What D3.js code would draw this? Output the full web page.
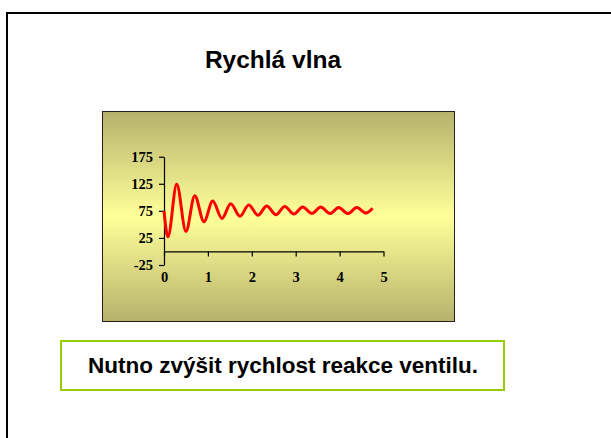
<!DOCTYPE html>
<html>
<head>
<meta charset="utf-8">
<script src="https://cdn.jsdelivr.net/npm/d3@7"></script>
<style>
  body { margin: 0; background: #fff; }
  svg { display: block; }
</style>
</head>
<body>
<svg id="chart"></svg>
<script>
// Data (time vs. value)
const titleText = "Rychlá vlna";
const noteText = "Nutno zvýšit rychlost reakce ventilu.";
const waveX = [0, 0.09, 0.29, 0.50, 0.70, 0.91, 1.11, 1.32, 1.52, 1.73, 1.93, 2.14, 2.34,
  2.55, 2.75, 2.96, 3.16, 3.37, 3.57, 3.78, 3.98, 4.19, 4.39, 4.60, 4.75];
const waveY = [75, 27, 124, 37, 103, 55, 93, 61, 88, 65, 86, 67, 84,
  68, 83, 69, 82, 70, 82, 70, 81, 70, 81, 71, 80];
const xTicks = [0, 1, 2, 3, 4, 5];
const yTicks = [-25, 25, 75, 125, 175];

const W = 611, H = 438;
const svg = d3.select("#chart").attr("width", W).attr("height", H);

// Slide frame (only left and top edges visible)
svg.append("path")
  .attr("d", `M7,${H + 5} L7,13 L${W + 5},13`)
  .attr("fill", "none")
  .attr("stroke", "#000")
  .attr("stroke-width", 2);

// Title
svg.append("text")
  .attr("x", 273)
  .attr("y", 68)
  .attr("text-anchor", "middle")
  .style("font-family", "Liberation Sans, Arial, sans-serif")
  .style("font-weight", "bold")
  .style("font-size", "24.5px")
  .text(titleText);

// Chart area with vertical gradient
const grad = svg.append("defs").append("linearGradient")
  .attr("id", "bg-grad")
  .attr("x1", 0).attr("y1", 0).attr("x2", 0).attr("y2", 1);
grad.append("stop").attr("offset", "0%").attr("stop-color", "#b6b26c");
grad.append("stop").attr("offset", "50%").attr("stop-color", "#ffff99");
grad.append("stop").attr("offset", "100%").attr("stop-color", "#b6b26c");

svg.append("rect")
  .attr("x", 102.5).attr("y", 111.5)
  .attr("width", 352).attr("height", 210)
  .attr("fill", "url(#bg-grad)")
  .attr("stroke", "#222")
  .attr("stroke-width", 1);

// Scales
const xScale = d3.scaleLinear().domain([0, 5]).range([164, 383.5]);
const yScale = d3.scaleLinear().domain([-25, 175]).range([265, 156.7]);

const tickFont = g => g.selectAll("text")
  .style("font-family", "Liberation Serif, Times New Roman, serif")
  .style("font-weight", "bold")
  .style("font-size", "14.5px")
  .attr("fill", "#000");

// Y axis
svg.append("g")
  .attr("transform", `translate(${xScale(0)},0)`)
  .call(d3.axisLeft(yScale).tickValues(yTicks).tickFormat(d => String(d))
    .tickSize(5).tickPadding(6).tickSizeOuter(0))
  .call(tickFont)
  .call(g => g.selectAll("path, line").attr("stroke", "#000").attr("stroke-width", 1.2));

// X axis crosses at y = 0, labels sit below the plot bottom
svg.append("g")
  .attr("transform", `translate(0,${yScale(0)})`)
  .call(d3.axisBottom(xScale).tickValues(xTicks).tickFormat(d => String(d))
    .tickSize(5).tickPadding(15).tickSizeOuter(0))
  .call(tickFont)
  .call(g => g.selectAll("path, line").attr("stroke", "#000").attr("stroke-width", 1.2));

// Wave line
const wave = waveX.map((x, i) => ({ x: x, y: waveY[i] }));
const line = d3.line()
  .x(d => xScale(d.x))
  .y(d => yScale(d.y))
  .curve(d3.curveMonotoneX);

svg.append("path")
  .datum(wave)
  .attr("fill", "none")
  .attr("stroke", "#ff0000")
  .attr("stroke-width", 3)
  .attr("stroke-linejoin", "round")
  .attr("d", line);

// Note box
svg.append("rect")
  .attr("x", 61).attr("y", 341)
  .attr("width", 443).attr("height", 49)
  .attr("fill", "#fff")
  .attr("stroke", "#99cc00")
  .attr("stroke-width", 2);

svg.append("text")
  .attr("x", 283)
  .attr("y", 373)
  .attr("text-anchor", "middle")
  .style("font-family", "Liberation Sans, Arial, sans-serif")
  .style("font-weight", "bold")
  .style("font-size", "22.5px")
  .text(noteText);
</script>
</body>
</html>
